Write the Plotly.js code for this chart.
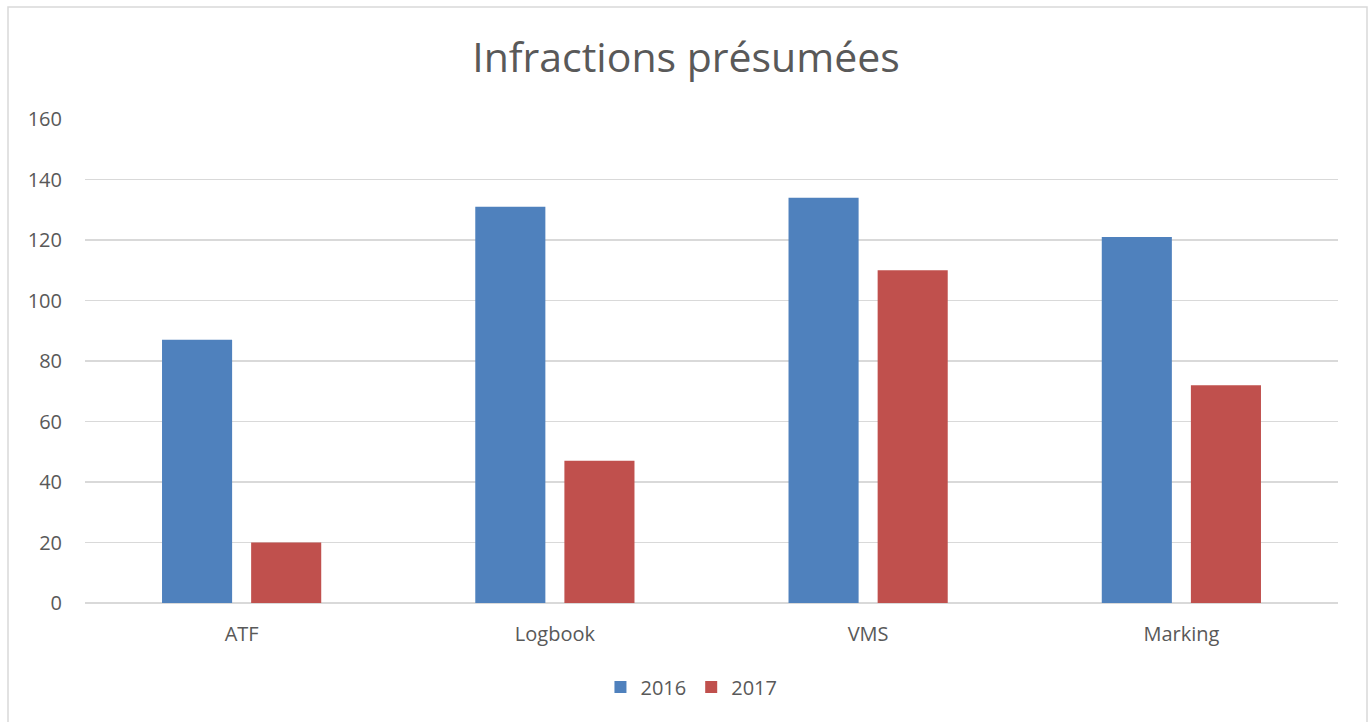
<!DOCTYPE html>
<html>
<head>
<meta charset="utf-8">
<script src="https://cdn.plot.ly/plotly-3.0.1.min.js"></script>
<style>html,body{margin:0;padding:0;background:#fff;overflow:hidden;}#chart{width:1372px;height:722px;}</style>
</head>
<body>
<div id="chart"></div>
<script>
const categories = ["ATF", "Logbook", "VMS", "Marking"];
const values2016 = [87, 131, 134, 121];
const values2017 = [20, 47, 110, 72];
const seriesNames = ["2016", "2017"];
const yTicks = [0, 20, 40, 60, 80, 100, 120, 140, 160];

const font = "Open Sans, Liberation Sans, sans-serif";
const textColor = "#595959";

const traces = [
  {type: "bar", name: seriesNames[0], x: categories, y: values2016, marker: {color: "#4F81BD"}, hoverinfo: "none"},
  {type: "bar", name: seriesNames[1], x: categories, y: values2017, marker: {color: "#C0504D"}, hoverinfo: "none"}
];

const layout = {
  width: 1372, height: 722,
  margin: {l: 85, r: 34, t: 119, b: 119},
  paper_bgcolor: "#fff", plot_bgcolor: "#fff",
  title: {text: "Infractions présumées", font: {family: font, size: 41, color: textColor}, x: 0.5, xanchor: "center", y: 0.92, yanchor: "middle"},
  barmode: "group", bargap: 0.431, bargroupgap: 0.2135,
  font: {family: font, color: textColor, size: 20},
  xaxis: {type: "category", showgrid: false, showline: false, zeroline: false, ticks: "", ticklabelstandoff: 17, tickfont: {family: font, size: 20, color: textColor}},
  yaxis: {range: [0, 160], tickvals: yTicks, showgrid: true, gridcolor: "#d9d9d9", gridwidth: 1.3, zeroline: true, zerolinecolor: "#d9d9d9", zerolinewidth: 1.3, showline: false, ticks: "", ticklabelstandoff: 22, tickfont: {family: font, size: 20, color: textColor}},
  showlegend: true,
  legend: {orientation: "h", x: 0.484, xanchor: "center", y: -0.1736, yanchor: "middle", font: {family: font, size: 20, color: textColor}, itemwidth: 30, traceorder: "normal"},
  shapes: [
    {type: "rect", xref: "paper", yref: "paper", x0: -77/1253, x1: 1 + 29/1253, y0: -140/484, y1: 1 + 112/484, line: {color: "#d9d9d9", width: 1.5}, fillcolor: "rgba(0,0,0,0)", layer: "below"}
  ]
};

Plotly.newPlot("chart", traces, layout, {displayModeBar: false, staticPlot: true});
</script>
</body>
</html>
